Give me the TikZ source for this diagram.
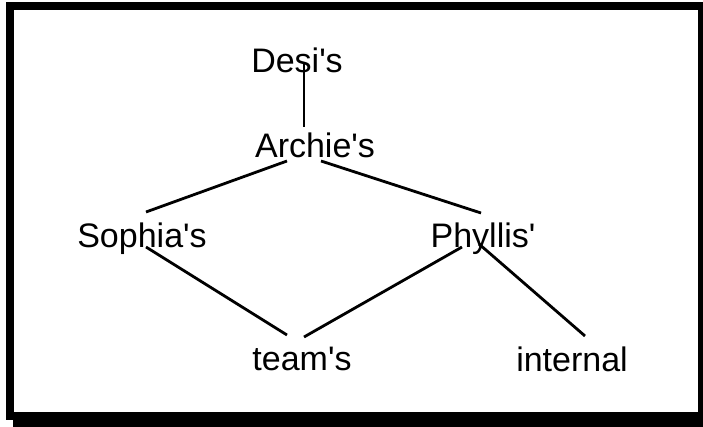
\documentclass[tikz,border=0pt]{standalone}
\usepackage{fontspec}
\setmainfont{Liberation Sans}
\usepackage{tikz}
\usetikzlibrary{positioning}

\begin{document}
\begin{tikzpicture}[
        x=1pt, y=-1pt,
        word/.style={anchor=base, inner sep=0pt, font=\fontsize{34}{40}\selectfont},
        branch/.style={line width=2.8pt},
    ]
        \useasboundingbox (0,0) rectangle (703,427);

        % Frame with shadow
        \fill[black] (6,2) rectangle (703,420);
        \fill[white] (14,10) rectangle (698,412);
        \fill[black] (13,420) rectangle (703,427);

        % Words
        \node[word] (desi) at (297,73) {Desi\textquotesingle s};
        \node[word] (archie) at (315,158) {Archie\textquotesingle s};
        \node[word] (sophia) at (142,248) {Sophia\textquotesingle s};
        \node[word] (phyllis) at (483,248) {Phyllis\textquotesingle};
        \node[word] (team) at (302,370) {team\textquotesingle s};
        \node[word] (internal) at (572,371) {internal};

        % Branches
        \draw[branch] ([shift={(7,-10)}]desi.base) -- ([shift={(-11,-31)}]archie.base);
        \draw[branch] ([shift={(-28,3)}]archie.base) -- ([shift={(4,-36)}]sophia.base);
        \draw[branch] ([shift={(6,3)}]archie.base) -- ([shift={(-2,-35)}]phyllis.base);
        \draw[branch] ([shift={(4,-1)}]sophia.base) -- ([shift={(-15,-35)}]team.base);
        \draw[branch] ([shift={(-21,-1)}]phyllis.base) -- ([shift={(2,-33)}]team.base);
        \draw[branch] ([shift={(-4,-4)}]phyllis.base) -- ([shift={(13,-35)}]internal.base);
    \end{tikzpicture}
\end{document}
